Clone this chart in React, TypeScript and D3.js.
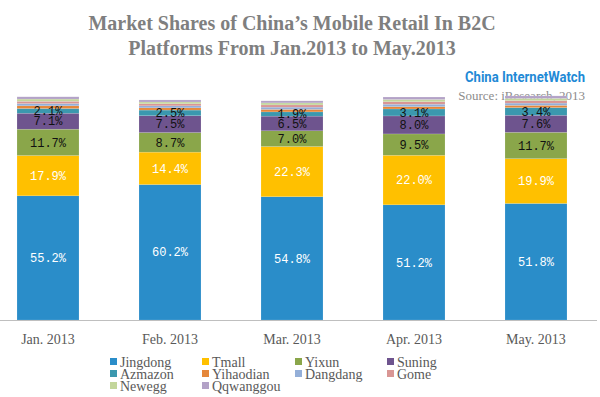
import * as d3 from 'd3';

const months = ['Jan. 2013', 'Feb. 2013', 'Mar. 2013', 'Apr. 2013', 'May. 2013'];
const platforms = ['Jingdong', 'Tmall', 'Yixun', 'Suning', 'Azmazon', 'Yihaodian', 'Dangdang', 'Gome', 'Newegg', 'Qqwanggou'];
const colors = ['#2a8dc9', '#ffc000', '#8aa64a', '#6e548e', '#3b98ae', '#e5873a', '#94afd8', '#d99694', '#c3d69b', '#b3a2c7'];

const jingdong = [55.2, 60.2, 54.8, 51.2, 51.8];
const tmall = [17.9, 14.4, 22.3, 22.0, 19.9];
const yixun = [11.7, 8.7, 7.0, 9.5, 11.7];
const suning = [7.1, 7.5, 6.5, 8.0, 7.6];
const azmazon = [2.1, 2.5, 1.9, 3.1, 3.4];
const yihaodian = [1.2, 1.0, 1.1, 1.0, 1.0];
const dangdang = [1.0, 0.9, 1.0, 1.1, 1.0];
const gome = [1.0, 0.9, 1.0, 1.1, 1.1];
const newegg = [1.0, 0.8, 0.9, 1.0, 1.0];
const qqwanggou = [1.0, 0.9, 0.9, 1.1, 1.1];

const series = [jingdong, tmall, yixun, suning, azmazon, yihaodian, dangdang, gome, newegg, qqwanggou];
const labelled = 5;

export default function App() {
  const W = 600;
  const H = 397;
  const x = d3.scaleBand<string>().domain(months).range([-13, 597]).paddingInner(0.492).paddingOuter(0.246);
  const y = d3.scaleLinear().domain([0, 100]).range([320, 95]);

  const rows = months.map((m, i) => {
    const r: Record<string, number | string> = { month: m };
    platforms.forEach((p, k) => (r[p] = series[k][i]));
    return r;
  });
  const stacked = d3.stack<Record<string, number | string>>().keys(platforms)(rows as any);

  const legendCols = [110, 202, 295, 387];
  const legendRows = [362, 374, 386];

  return (
    <svg width={W} height={H} style={{ position: 'absolute', left: 0, top: 0, background: '#fff' }}>
      <text x={292} y={30} textAnchor="middle" fontFamily="Liberation Serif" fontWeight="bold" fontSize={20} fill="#7f7f7f">
        Market Shares of China’s Mobile Retail In B2C
      </text>
      <text x={292} y={55} textAnchor="middle" fontFamily="Liberation Serif" fontWeight="bold" fontSize={20} fill="#7f7f7f">
        Platforms From Jan.2013 to May.2013
      </text>
      <text x={465} y={82} fontFamily="'Liberation Sans Narrow', Roboto" fontWeight="bold" fontSize={15} fill="#1f8ad6" textLength={120} lengthAdjust="spacingAndGlyphs">
        China InternetWatch
      </text>
      <text x={585} y={100} textAnchor="end" fontFamily="Liberation Serif" fontSize={13} fill="#8c8c8c">
        Source: iResearch, 2013
      </text>

      {stacked.map((layer, k) => (
        <g key={platforms[k]} fill={colors[k]}>
          {layer.map((d, i) => (
            <rect key={i} x={x(months[i])} y={y(d[1])} width={x.bandwidth()} height={y(d[0]) - y(d[1])} stroke="#ffffff" strokeOpacity={0.25} strokeWidth={0.5} />
          ))}
        </g>
      ))}

      {stacked.slice(0, labelled).map((layer, k) => (
        <g key={'l' + k}>
          {layer.map((d, i) => (
            <text key={i} x={(x(months[i]) as number) + x.bandwidth() / 2} y={(y(d[0]) + y(d[1])) / 2} dy="0.35em" textAnchor="middle" fontFamily="'Liberation Mono'" fontSize={12} fill={k < 2 ? '#ffffff' : '#111111'}>
              {series[k][i].toFixed(1)}%
            </text>
          ))}
        </g>
      ))}

      <line x1={0} x2={597} y1={320.5} y2={320.5} stroke="#bfbfbf" strokeWidth={1} />
      {months.map((m) => (
        <text key={m} x={(x(m) as number) + x.bandwidth() / 2} y={344} textAnchor="middle" fontFamily="Liberation Serif" fontSize={14} fill="#595959">
          {m}
        </text>
      ))}

      {platforms.map((p, k) => {
        const cx = legendCols[k % 4];
        const cy = legendRows[Math.floor(k / 4)];
        return (
          <g key={p}>
            <rect x={cx} y={cy - 4} width={7} height={7} fill={colors[k]} />
            <text x={cx + 10} y={cy} dy="0.35em" fontFamily="Liberation Serif" fontSize={14} fill="#595959">
              {p}
            </text>
          </g>
        );
      })}
    </svg>
  );
}
